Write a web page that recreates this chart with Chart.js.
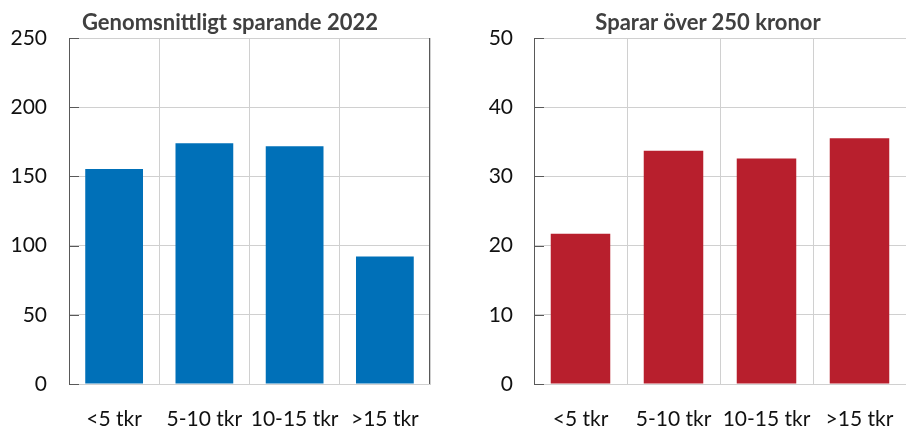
<!DOCTYPE html>
<html>
<head>
<meta charset="utf-8">
<script src="https://cdn.jsdelivr.net/npm/chart.js@4/dist/chart.umd.min.js"></script>
<style>
    html, body { margin: 0; padding: 0; background: #fff; }
    .wrap { position: relative; width: 906px; height: 431px; }
    .panel { position: absolute; top: 0; height: 431px; }
    #left-panel { left: 0; width: 456px; }
    #right-panel { left: 456px; width: 450px; }
    .title {
        position: absolute; top: 9px; width: 400px; margin-left: -200px;
        text-align: center; font: bold 22px Lato, "Open Sans", sans-serif; color: #404040;
        line-height: 26px; pointer-events: none;
    }
    #left-title { left: 230px; }
    #right-title { left: 708px; }
</style>
</head>
<body>
<div class="wrap">
    <div class="panel" id="left-panel"><canvas id="savings-chart"></canvas></div>
    <div class="panel" id="right-panel"><canvas id="over250-chart"></canvas></div>
    <div class="title" id="left-title"></div>
    <div class="title" id="right-title"></div>
</div>
<script>
const categories = ['<5 tkr', '5-10 tkr', '10-15 tkr', '>15 tkr'];

const avgSavings = [155.3, 173.9, 171.7, 92.2];
const shareOver250 = [21.7, 33.7, 32.6, 35.5];

const leftTitle = 'Genomsnittligt sparande 2022';
const rightTitle = 'Sparar över 250 kronor';

const FONT = 'Lato, "Open Sans", sans-serif';
const AXIS = '#595959';
const GRID = '#d0d0d0';

document.getElementById('left-title').textContent = leftTitle;
document.getElementById('right-title').textContent = rightTitle;

// ticks drawn inward on the y axis, plus optional dark right border
const innerTicks = {
    id: 'innerTicks',
    afterDraw(chart, args, opts) {
        const { ctx, chartArea } = chart;
        const y = chart.scales.y;
        ctx.save();
        ctx.strokeStyle = AXIS;
        ctx.lineWidth = 1;
        ctx.beginPath();
        y.ticks.forEach((t) => {
            const py = Math.round(y.getPixelForValue(t.value)) + 0.5;
            ctx.moveTo(chartArea.left, py);
            ctx.lineTo(chartArea.left + 10, py);
        });
        if (opts.rightBorder) {
            const px = Math.round(chartArea.right) - 0.5;
            ctx.moveTo(px, chartArea.top);
            ctx.lineTo(px, chartArea.bottom);
        }
        ctx.stroke();
        ctx.restore();
    },
};

function makeChart(id, values, color, yMax, step, opts) {
    const canvas = document.getElementById(id);
    return new Chart(canvas.getContext('2d'), {
        type: 'bar',
        data: {
            labels: categories,
            datasets: [
                {
                    data: values,
                    backgroundColor: color,
                    borderWidth: 0,
                    categoryPercentage: 0.64,
                    barPercentage: 1,
                },
            ],
        },
        options: {
            responsive: true,
            maintainAspectRatio: false,
            animation: false,
            layout: { padding: { left: 0, right: opts.padRight, top: 38, bottom: 0 } },
            plugins: {
                legend: { display: false },
                tooltip: { enabled: false },
                innerTicks: { rightBorder: opts.rightBorder },
            },
            scales: {
                x: {
                    grid: { color: GRID, drawTicks: false, offset: true },
                    border: { color: GRID },
                    ticks: {
                        color: '#111',
                        font: { family: FONT, size: 21 },
                        padding: 23,
                        maxRotation: 0,
                        autoSkip: false,
                    },
                    afterFit: (scale) => {
                        scale.height = 47;
                        scale.paddingLeft = 0;
                        scale.paddingRight = 0;
                    },
                },
                y: {
                    min: 0,
                    max: yMax,
                    grid: { color: GRID, drawTicks: false },
                    border: { color: AXIS, width: 1 },
                    ticks: {
                        stepSize: step,
                        color: '#111',
                        font: { family: FONT, size: 21 },
                        padding: opts.labelPad,
                    },
                    afterFit: (scale) => { scale.width = opts.axisWidth; },
                },
            },
        },
        plugins: [innerTicks],
    });
}

makeChart('savings-chart', avgSavings, '#0070b8', 250, 50,
    { padRight: 26, axisWidth: 69, labelPad: 22, rightBorder: true });
makeChart('over250-chart', shareOver250, '#b81f2d', 50, 10,
    { padRight: 0, axisWidth: 78, labelPad: 21, rightBorder: false });
</script>
</body>
</html>
